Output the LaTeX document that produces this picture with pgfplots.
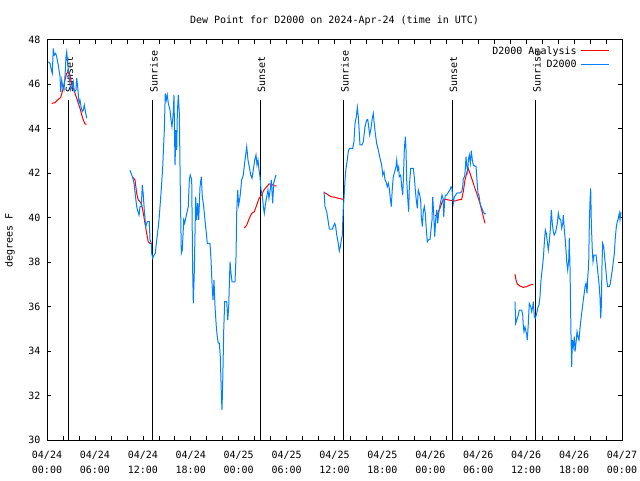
\documentclass[border=0pt]{standalone}
\usepackage{fontspec}
\setmainfont{DejaVu Sans Mono}
\usepackage{pgfplots}
\pgfplotsset{compat=1.18}
\definecolor{dblue}{RGB}{0,128,255}
\definecolor{dred}{RGB}{255,0,0}
\begin{document}
\fontsize{10pt}{12pt}\selectfont
\begin{tikzpicture}[x=1pt,y=1pt]
\begin{axis}[
  scale only axis, width=575pt, height=400.5pt,
  xmin=0, xmax=72, ymin=30, ymax=48,
  xtick={0,6,...,72},
  xticklabels={{04/24\\00:00},{04/24\\06:00},{04/24\\12:00},{04/24\\18:00},{04/25\\00:00},{04/25\\06:00},{04/25\\12:00},{04/25\\18:00},{04/26\\00:00},{04/26\\06:00},{04/26\\12:00},{04/26\\18:00},{04/27\\00:00}},
  xticklabel style={align=center, font=\fontsize{10pt}{15pt}\selectfont, yshift=-7.5pt},
  minor x tick num=2,
  ytick={30,32,...,48},
  yticklabel style={xshift=-3pt},
  /pgf/number format/assume math mode=true,
  tick align=inside,
  major tick length=4pt, minor tick length=4pt,
  tick style={black, line width=0.6pt},
  axis line style={black, line width=0.8pt},
  legend plot pos=right,
  legend cell align=right,
  legend style={at={(0.978,0.987)}, anchor=north east, draw=none, fill=none, inner sep=0pt, row sep=1.5pt, nodes={inner sep=1.5pt}, column sep=2pt},
  legend image code/.code={\draw[#1] (0pt,0pt) -- (28pt,0pt);},
]
\coordinate (sw) at (rel axis cs:0,0);
% sun lines
\addplot[black, line width=0.9pt, forget plot] coordinates {(2.63,30) (2.63,45.3)};
\addplot[black, line width=0.9pt, forget plot] coordinates {(13.19,30) (13.19,45.3)};
\addplot[black, line width=0.9pt, forget plot] coordinates {(26.67,30) (26.67,45.3)};
\addplot[black, line width=0.9pt, forget plot] coordinates {(37.10,30) (37.10,45.3)};
\addplot[black, line width=0.9pt, forget plot] coordinates {(50.71,30) (50.71,45.3)};
\addplot[black, line width=0.9pt, forget plot] coordinates {(61.14,30) (61.14,45.3)};
\node[rotate=90, anchor=west, inner sep=0pt] at (axis cs:2.83,45.62) {Sunset};
\node[rotate=90, anchor=west, inner sep=0pt] at (axis cs:13.39,45.62) {Sunrise};
\node[rotate=90, anchor=west, inner sep=0pt] at (axis cs:26.87,45.62) {Sunset};
\node[rotate=90, anchor=west, inner sep=0pt] at (axis cs:37.30,45.62) {Sunrise};
\node[rotate=90, anchor=west, inner sep=0pt] at (axis cs:50.91,45.62) {Sunset};
\node[rotate=90, anchor=west, inner sep=0pt] at (axis cs:61.34,45.62) {Sunrise};
% Analysis (red)
\addplot[dred, line width=1pt] coordinates {(0.59,45.13)(1.00,45.16)(1.41,45.31)(1.72,45.40)(1.97,45.73)(2.25,46.18)(2.47,46.48)(2.67,46.55)(2.88,46.40)(3.09,45.96)(3.29,45.81)(3.51,45.58)(3.72,45.36)(3.92,45.13)(4.13,44.91)(4.35,44.61)(4.55,44.38)(4.76,44.20)(4.97,44.20)};
\addlegendentry{D2000 Analysis}
% D2000 (blue)
\addplot[dblue, line width=1pt] coordinates {(0.16,47.00)(0.38,46.93)(0.50,46.71)(0.66,46.48)(0.79,47.60)(0.91,47.30)(1.09,47.38)(1.21,47.23)(1.41,46.85)(1.63,46.33)(1.72,45.65)(1.84,46.18)(1.97,45.88)(2.13,45.73)(2.25,46.33)(2.38,47.23)(2.47,47.45)(2.59,46.93)(2.79,46.26)(2.97,45.73)(3.13,45.88)(3.29,46.10)(3.42,45.65)(3.63,45.73)(3.72,46.26)(3.84,45.88)(4.01,45.13)(4.13,45.28)(4.26,44.98)(4.42,44.76)(4.55,44.83)(4.67,45.06)(4.85,44.68)(4.97,44.46)};
\addlegendentry{D2000}
\addplot[dred, line width=1pt, forget plot] coordinates {(10.68,41.83)(11.02,41.69)(11.23,41.09)(11.43,40.79)(11.65,40.71)(11.86,40.56)(12.06,40.19)(12.27,39.74)(12.48,39.29)(12.68,38.91)(12.90,38.84)(13.11,38.84)};
\addplot[dred, line width=1pt, forget plot] coordinates {(24.71,39.52)(25.01,39.66)(25.33,39.96)(25.63,40.19)(25.96,40.26)(26.26,40.56)(26.55,40.86)(26.88,41.01)(27.17,41.24)(27.51,41.38)(27.80,41.51)(28.14,41.49)(28.42,41.42)(28.76,41.42)};
\addplot[dred, line width=1pt, forget plot] coordinates {(34.69,41.13)(35.02,41.06)(35.35,40.98)(35.65,40.93)(36.06,40.91)(36.48,40.86)(36.90,40.83)(37.10,40.83)};
\addplot[dred, line width=1pt, forget plot] coordinates {(48.59,40.08)(48.80,40.11)(49.00,40.26)(49.21,40.41)(49.42,40.64)(49.62,40.79)(49.84,40.82)(50.25,40.79)(50.68,40.76)(51.09,40.74)(51.50,40.79)(51.93,40.82)(52.13,41.16)(52.34,41.69)(52.55,41.99)(52.75,42.21)(52.97,41.99)(53.18,41.76)(53.38,41.54)(53.59,41.31)(53.81,41.09)(54.01,40.86)(54.22,40.64)(54.43,40.34)(54.63,40.04)(54.85,39.74)};
\addplot[dred, line width=1pt, forget plot] coordinates {(58.60,37.45)(58.73,37.19)(58.89,37.01)(59.23,36.92)(59.64,36.86)(60.07,36.89)(60.48,36.97)(60.89,37.00)};
\addplot[dblue, line width=1pt, forget plot] coordinates {(10.39,42.13)(10.61,41.91)(10.81,41.69)(10.93,41.46)(11.06,41.01)(11.23,40.49)(11.39,40.26)(11.52,40.11)(11.65,40.49)(11.81,40.49)(11.93,41.46)(12.06,41.01)(12.18,40.34)(12.36,39.59)(12.56,39.81)(12.81,39.81)(12.90,38.99)(13.06,38.84)(13.11,38.39)(13.24,38.17)(13.40,38.31)(13.56,38.39)(13.74,38.99)(13.94,39.59)(14.06,40.04)(14.24,40.93)(14.36,41.54)(14.49,42.28)(14.69,43.93)(14.81,45.58)(14.94,45.28)(15.06,45.51)(15.19,45.13)(15.40,44.83)(15.53,44.38)(15.65,44.08)(15.81,44.68)(15.90,45.51)(16.03,42.36)(16.15,43.93)(16.24,43.03)(16.32,44.68)(16.44,45.51)(16.57,44.68)(16.69,41.31)(16.82,38.39)(16.94,38.54)(17.12,39.89)(17.24,39.74)(17.41,40.04)(17.69,40.49)(17.82,41.69)(17.94,41.91)(18.12,41.69)(18.24,37.64)(18.32,36.14)(18.44,37.49)(18.62,40.93)(18.75,39.89)(18.87,40.64)(19.00,39.89)(19.16,41.38)(19.32,41.83)(19.45,40.93)(19.62,40.49)(19.78,39.89)(19.91,39.44)(20.07,38.84)(20.41,38.84)(20.54,38.09)(20.66,37.04)(20.79,36.29)(20.91,37.19)(21.04,35.99)(21.20,35.09)(21.32,34.64)(21.45,34.35)(21.58,34.35)(21.70,33.74)(21.83,32.10)(21.91,31.35)(22.00,32.55)(22.13,34.94)(22.25,36.22)(22.50,36.22)(22.63,35.39)(22.75,35.99)(22.92,38.01)(23.04,37.49)(23.17,37.11)(23.54,37.11)(23.67,38.24)(23.75,40.19)(23.88,41.24)(24.00,40.56)(24.17,40.93)(24.38,41.69)(24.58,41.91)(24.79,42.58)(25.01,43.18)(25.17,42.58)(25.33,42.28)(25.51,41.91)(25.67,41.76)(25.83,42.13)(26.01,42.58)(26.17,42.81)(26.30,42.36)(26.42,42.58)(26.55,42.13)(26.67,41.83)(26.80,41.24)(26.96,41.01)(27.09,40.49)(27.21,40.19)(27.34,40.56)(27.51,40.93)(27.67,41.24)(27.80,40.86)(27.92,41.16)(28.09,41.69)(28.26,40.64)(28.39,41.54)(28.55,41.76)(28.68,41.91)};
\addplot[dblue, line width=1pt, forget plot] coordinates {(34.69,41.16)(34.81,40.49)(35.02,40.26)(35.22,39.81)(35.35,39.48)(35.73,39.48)(35.85,39.59)(36.03,39.74)(36.15,39.59)(36.28,39.21)(36.40,38.99)(36.53,38.69)(36.60,38.49)(36.73,38.69)(36.85,38.99)(36.98,39.21)(37.03,39.74)(37.10,40.41)(37.19,40.86)(37.32,41.69)(37.44,42.21)(37.60,42.58)(37.73,42.96)(37.85,43.11)(38.28,43.11)(38.44,43.41)(38.57,44.23)(38.73,44.53)(38.86,44.95)(38.98,44.53)(39.11,43.78)(39.19,43.26)(39.44,43.26)(39.61,43.41)(39.82,44.08)(40.03,44.38)(40.16,44.41)(40.28,44.08)(40.41,43.71)(40.57,44.01)(40.73,44.46)(40.86,44.68)(40.95,44.31)(41.11,43.78)(41.28,43.33)(41.49,43.03)(41.70,42.66)(41.91,42.36)(42.04,41.91)(42.20,42.06)(42.33,41.69)(42.45,41.61)(42.61,41.38)(42.74,41.54)(42.86,41.31)(42.99,40.86)(43.11,40.49)(43.24,41.31)(43.36,41.83)(43.54,42.06)(43.70,42.28)(43.79,42.58)(43.91,42.13)(44.04,42.28)(44.11,41.83)(44.29,41.91)(44.42,41.38)(44.54,41.01)(44.62,41.69)(44.74,43.03)(44.87,43.63)(44.95,43.11)(45.04,41.69)(45.17,40.86)(45.29,40.26)(45.37,41.38)(45.54,42.21)(45.87,42.21)(45.99,41.83)(46.12,41.24)(46.24,40.79)(46.37,40.41)(46.49,41.24)(46.62,41.09)(46.79,40.79)(46.87,40.04)(47.00,39.59)(47.12,40.26)(47.25,40.49)(47.37,40.19)(47.50,39.44)(47.62,38.91)(47.75,38.99)(47.96,39.02)(48.08,39.44)(48.21,39.89)(48.30,40.93)(48.42,40.19)(48.55,39.14)(48.67,39.89)(48.80,40.34)(48.92,39.74)(49.05,40.19)(49.21,40.56)(49.34,40.79)(49.46,41.01)(49.59,40.86)(49.68,40.04)(49.80,40.79)(49.88,41.01)(50.05,41.01)(50.18,41.09)(50.30,41.16)(50.46,41.24)(50.59,41.38)(50.71,41.31)(50.80,40.86)(50.88,40.64)(51.00,40.93)(51.18,41.01)(51.30,41.09)(51.47,41.11)(51.72,41.11)(51.93,41.16)(52.05,41.38)(52.13,41.76)(52.30,41.83)(52.38,42.21)(52.47,42.73)(52.55,42.36)(52.68,42.06)(52.76,42.58)(52.88,42.81)(53.01,42.44)(53.13,43.00)(53.26,42.58)(53.38,42.36)(53.56,42.31)(53.72,42.31)(53.84,41.69)(53.97,41.09)(54.09,41.01)(54.22,40.64)(54.35,40.49)(54.47,40.41)(54.63,40.26)(54.81,40.16)(54.94,40.19)};
\addplot[dblue, line width=1pt, forget plot] coordinates {(58.60,36.22)(58.69,35.24)(58.82,35.39)(59.02,35.62)(59.14,35.84)(59.44,35.84)(59.57,35.62)(59.64,35.14)(59.73,34.87)(59.85,35.09)(59.94,34.94)(60.07,34.72)(60.14,34.49)(60.27,35.24)(60.39,36.14)(60.57,35.99)(60.69,35.77)(60.82,35.99)(60.89,36.22)(61.02,35.54)(61.14,35.47)(61.32,35.69)(61.44,35.92)(61.61,36.07)(61.73,36.44)(61.86,37.19)(62.02,37.72)(62.15,38.17)(62.27,38.84)(62.40,39.44)(62.52,39.29)(62.65,38.91)(62.77,38.54)(62.90,38.91)(63.02,39.44)(63.15,40.34)(63.27,39.74)(63.40,39.36)(63.52,39.21)(63.70,39.36)(63.90,39.74)(64.03,40.19)(64.15,39.96)(64.33,39.89)(64.45,39.52)(64.58,39.74)(64.65,40.11)(64.78,39.44)(64.90,38.99)(65.08,38.01)(65.20,37.64)(65.33,38.09)(65.40,39.07)(65.49,37.79)(65.61,34.80)(65.70,33.29)(65.78,34.49)(65.90,34.19)(66.03,34.64)(66.12,33.97)(66.24,34.35)(66.37,34.87)(66.49,34.64)(66.62,34.49)(66.74,35.02)(66.90,35.54)(67.08,36.07)(67.24,36.52)(67.37,36.89)(67.49,37.04)(67.62,36.59)(67.71,37.27)(67.83,37.94)(67.91,39.74)(68.00,40.79)(68.08,41.31)(68.16,39.74)(68.28,38.54)(68.37,38.01)(68.50,38.31)(68.75,38.31)(68.91,37.79)(69.03,37.34)(69.16,36.89)(69.25,36.37)(69.33,35.47)(69.41,35.99)(69.50,37.94)(69.58,38.84)(69.71,38.69)(69.84,38.17)(69.96,37.72)(70.09,37.19)(70.21,36.89)(70.41,36.89)(70.54,37.04)(70.66,37.34)(70.79,37.64)(70.91,38.01)(71.04,38.39)(71.16,39.07)(71.29,39.59)(71.41,39.81)(71.54,39.96)(71.66,40.19)(71.75,39.89)(71.87,40.26)};
\end{axis}
\node at ([shift={(287.5,419.5)}]sw) {Dew Point for D2000 on 2024-Apr-24 (time in UTC)};
\node[rotate=90] at ([shift={(-37,199.5)}]sw) {degrees F};
\pgfresetboundingbox
\useasboundingbox ([shift={(-47,-40)}]sw) rectangle ([shift={(593,440)}]sw);
\end{tikzpicture}
\end{document}
